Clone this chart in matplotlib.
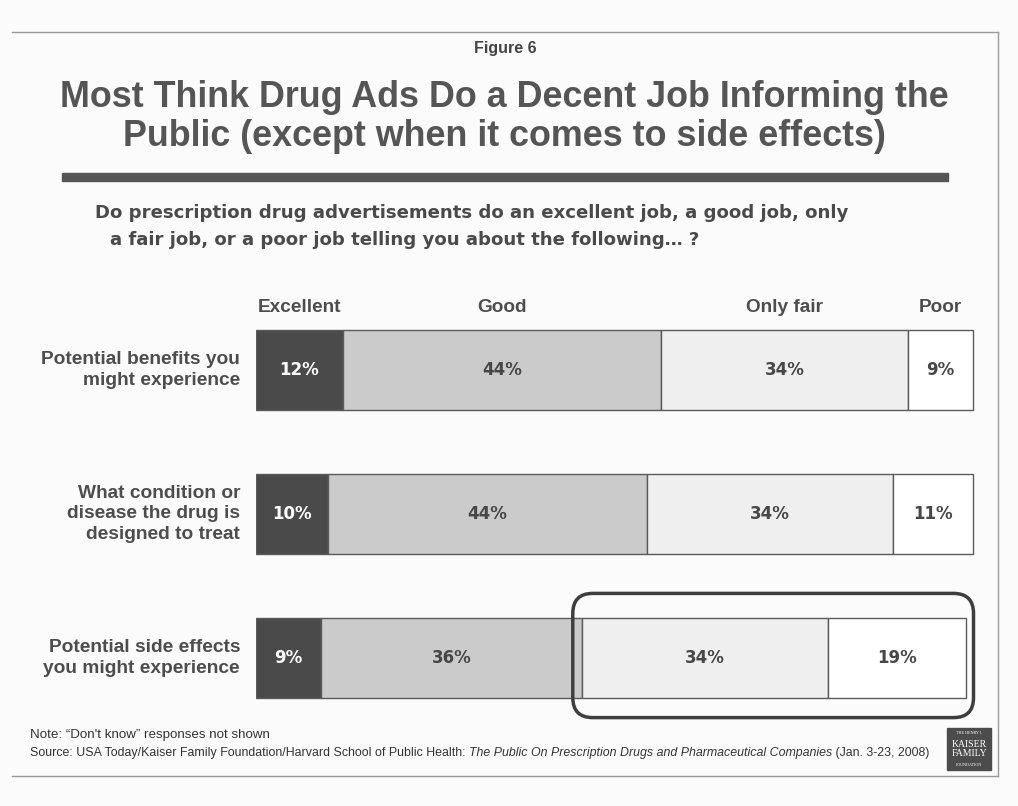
import numpy as np
import matplotlib.pyplot as plt
from matplotlib.patches import FancyBboxPatch, Rectangle
from matplotlib.lines import Line2D
from matplotlib.transforms import IdentityTransform

plt.rcParams['font.family'] = ['Liberation Sans', 'DejaVu Sans']

items = ["Potential benefits you\nmight experience",
         "What condition or\ndisease the drug is\ndesigned to treat",
         "Potential side effects\nyou might experience"]
ratings = ["Excellent", "Good", "Only fair", "Poor"]
excellent = [12, 10, 9]
good = [44, 44, 36]
only_fair = [34, 34, 34]
poor = [9, 11, 19]

fills = ["#4a4a4a", "#cbcbcb", "#efefef", "#ffffff"]
label_colors = ["white", "#474747", "#474747", "#474747"]
ink = "#4d4d4d"
wide = ['DejaVu Sans']

W, H = 1018, 806
fig = plt.figure(figsize=(W / 100, H / 100), dpi=100)
fig.patch.set_facecolor("#fbfbfb")

# page frame (top, right, bottom)
fig.add_artist(Line2D([12 / W, 998 / W], [1 - 32 / H, 1 - 32 / H], color="#9a9a9a", lw=1))
fig.add_artist(Line2D([998 / W, 998 / W], [1 - 32 / H, 1 - 776 / H], color="#9a9a9a", lw=1))
fig.add_artist(Line2D([12 / W, 998 / W], [1 - 776 / H, 1 - 776 / H], color="#9a9a9a", lw=1))

fig.text(505 / W, 1 - 48 / H, "Figure 6", ha="center", va="center",
         fontsize=11.5, fontweight="bold", color="#444444")
fig.text(504 / W, 1 - 117 / H,
         "Most Think Drug Ads Do a Decent Job Informing the\n"
         "Public (except when it comes to side effects)",
         ha="center", va="center", fontsize=25.8, fontweight="bold",
         color="#555555", linespacing=1.17)
fig.add_artist(Rectangle((62 / W, 1 - 181 / H), 886 / W, 8 / H, color="#555555"))

fig.text(95 / W, 1 - 213 / H,
         "Do prescription drug advertisements do an excellent job, a good job, only",
         ha="left", va="center", fontsize=13.1, fontweight="bold", color="#4a4a4a",
         family=wide)
fig.text(110 / W, 1 - 240 / H,
         "a fair job, or a poor job telling you about the following\u2026 ?",
         ha="left", va="center", fontsize=13.1, fontweight="bold", color="#4a4a4a",
         family=wide)

# bar area: 0-100% spans x 256..980 px, rows centred at 371 / 514.5 / 658 px
ax = fig.add_axes([256 / W, 1 - 730 / H, 724 / W, 432 / H])
ax.set_xlim(0, 100)
ax.set_ylim(2.5, -0.5)
ax.axis("off")

y = np.arange(len(items))
series = [excellent, good, only_fair, poor]
left = np.zeros(len(items))
for vals, fc, tc in zip(series, fills, label_colors):
    vals = np.array(vals)
    ax.barh(y, vals, left=left, height=0.55, color=fc, edgecolor="#5a5a5a", linewidth=1)
    for yi, l, v in zip(y, left, vals):
        ax.text(l + v / 2, yi, f"{v}%", ha="center", va="center", fontsize=12,
                fontweight="bold", color=tc, family=wide)
    left = left + vals

# column headers over the first row's segments
starts = np.cumsum([0] + [s[0] for s in series[:-1]])
for name, s, vals in zip(ratings, starts, series):
    ax.text(s + vals[0] / 2, -0.435, name, ha="center", va="center", fontsize=13.7,
            fontweight="bold", color=ink)

for yi, name in zip(y, items):
    ax.text(-2.2, yi, name, ha="right", va="center", fontsize=13.8, fontweight="bold",
            color=ink, linespacing=1.3)

# rounded frame around the negative side of the side-effects row
fig.canvas.draw()
x0, y0 = ax.transData.transform((excellent[2] + good[2], 2 + 0.275))
x1, y1 = ax.transData.transform((excellent[2] + good[2] + only_fair[2] + poor[2], 2 - 0.275))
box = FancyBboxPatch((x0 - 9, y0 - 20), (x1 - x0) + 17, (y1 - y0) + 45,
                     boxstyle="round,pad=0,rounding_size=20", transform=IdentityTransform(),
                     fill=False, edgecolor="#3e3e3e", linewidth=2.5)
fig.add_artist(box)

fig.text(30 / W, 1 - 735 / H, "Note: \u201cDon't know\u201d responses not shown",
         ha="left", va="center", fontsize=9.6, color="#333333")

# source line: plain, italic title, plain
renderer = fig.canvas.get_renderer()
parts = [("Source: USA Today/Kaiser Family Foundation/Harvard School of Public Health: ", "normal"),
         ("The Public On Prescription Drugs and Pharmaceutical Companies", "italic"),
         (" (Jan. 3-23, 2008)", "normal")]
xpos = 30
for txt, style in parts:
    t = fig.text(xpos / W, 1 - 753 / H, txt, ha="left", va="center", fontsize=8.95,
                 color="#333333", style=style)
    xpos += t.get_window_extent(renderer).width

# foundation logo
fig.add_artist(Rectangle((947 / W, 1 - 770 / H), 44 / W, 42 / H, color="#4c4c4c"))
fig.text(969 / W, 1 - 733 / H, "THE HENRY J.", ha="center", va="center", fontsize=3,
         color="white", family=['Liberation Serif'])
fig.text(969 / W, 1 - 749 / H, "KAISER\nFAMILY", ha="center", va="center", fontsize=7,
         color="white", family=['Liberation Serif'], linespacing=0.9)
fig.text(969 / W, 1 - 765 / H, "FOUNDATION", ha="center", va="center", fontsize=3,
         color="white", family=['Liberation Serif'])

fig.savefig("out.png", dpi=100, facecolor=fig.get_facecolor())
